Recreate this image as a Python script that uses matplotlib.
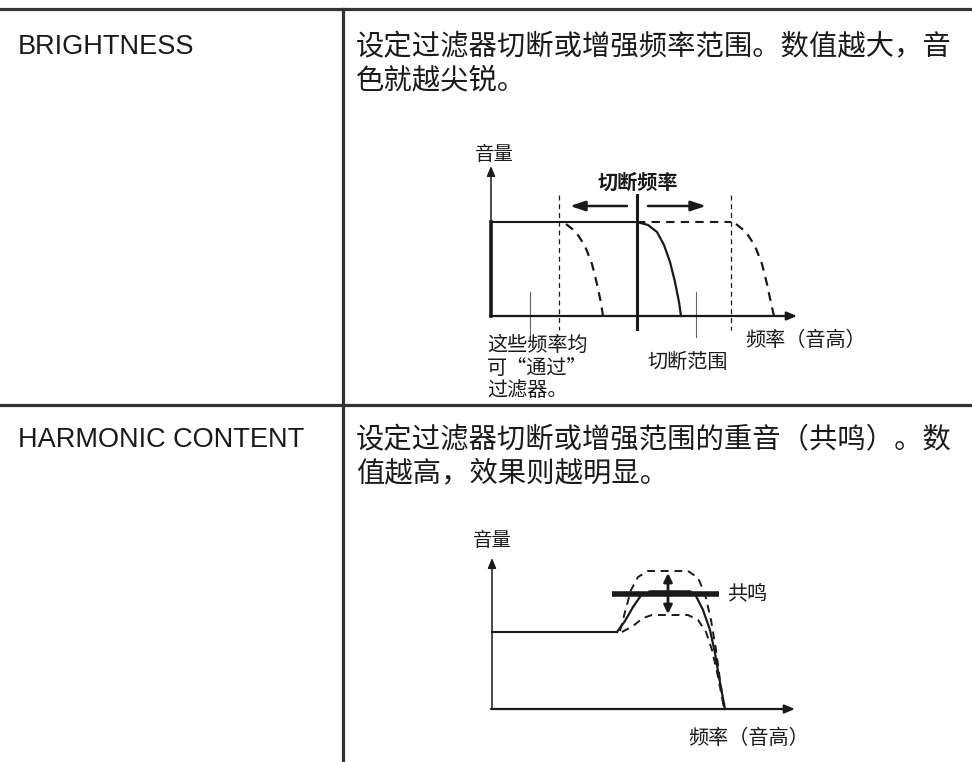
import numpy as np
import matplotlib.pyplot as plt

plt.rcParams['font.family'] = ['Noto Sans CJK SC', 'DejaVu Sans']

# row labels and descriptions
params = ['BRIGHTNESS', 'HARMONIC CONTENT']
desc = [['设定过滤器切断或增强频率范围。数值越大，音', '色就越尖锐。'],
        ['设定过滤器切断或增强范围的重音（共鸣）。数', '值越高，效果则越明显。']]

# BRIGHTNESS diagram (picture pixels)
b_level = 222
b_base = 316
b_cutoff = 637
b_lo, b_hi = 559, 731
b_solid_x = [637, 648, 657, 664, 670, 675, 679, 681]
b_solid_y = [222, 225, 232, 245, 262, 282, 302, 316]
b_dash1_x = [566, 576, 585, 592, 597, 601, 603]
b_dash2_x = [736, 746, 755, 762, 767, 771, 774]
b_dash_y = [224, 232, 246, 264, 284, 303, 316]

# HARMONIC CONTENT diagram
h_flat_x = [492, 617]
h_flat_y = 632
h_solid_x = [617, 625, 633, 642, 695, 703, 710, 715, 719, 725]
h_solid_y = [632, 621, 607, 594, 594, 610, 630, 653, 677, 709]
h_up_x = [620, 625, 631, 638, 648, 688, 698, 705, 711, 716, 720, 724]
h_up_y = [631, 612, 590, 577, 571, 571, 578, 594, 620, 650, 680, 708]
h_low_x = [622, 633, 643, 652, 688, 698, 706, 712, 717, 721, 724]
h_low_y = [632, 626, 618, 615, 615, 620, 632, 650, 672, 692, 708]
h_res = 594

fig = plt.figure(figsize=(9.72, 7.62), dpi=100)
ax = fig.add_axes([0, 0, 1, 1])
ax.set_xlim(0, 972)
ax.set_ylim(762, 0)
ax.axis('off')

line_c = '#333333'
ink = '#1a1a1a'

# table frame
ax.plot([0, 972], [9, 9], color=line_c, lw=2.3)
ax.plot([0, 970], [405, 405], color=line_c, lw=2.3)
ax.plot([343, 343], [9, 762], color=line_c, lw=2.3)

for i, (p, d) in enumerate(zip(params, desc)):
    y0 = 47 + i * 393
    ax.text(18, y0, p, fontsize=19.5, family=['Liberation Sans', 'DejaVu Sans'],
            va='center', ha='left', color=ink)
    for j, s in enumerate(d):
        ax.text(356, y0 + j * 33, s, fontsize=20.4, fontweight='medium',
                va='center', ha='left', color=ink)

def arrow(x0, y0, x1, y1, lw=1.2, hw=0.35, hl=0.7):
    ax.annotate('', xy=(x1, y1), xytext=(x0, y0),
                arrowprops=dict(arrowstyle='-|>,head_width=%s,head_length=%s' % (hw, hl),
                                color=ink, lw=lw, shrinkA=0, shrinkB=0))

lab = dict(fontsize=14.5, fontweight='medium', va='center', color=ink)

# ---- BRIGHTNESS diagram
arrow(491, b_base, 491, 166, lw=1.1, hw=0.25, hl=0.6)
arrow(490, b_base, 797, b_base, lw=1.6, hw=0.25, hl=0.6)
ax.plot([491, 491], [b_level, b_base], color=ink, lw=2.6)
ax.plot([491, b_cutoff], [b_level, b_level], color=ink, lw=1.5)
ax.plot([b_cutoff, b_hi], [b_level, b_level], color=ink, lw=1.5, ls=(0, (4, 3)))
ax.plot([b_cutoff, b_cutoff], [195, 329], color=ink, lw=2.2)
ax.plot(b_solid_x, b_solid_y, color=ink, lw=1.6)
ax.plot(b_dash1_x, b_dash_y, color=ink, lw=1.6, ls=(0, (4, 3)))
ax.plot(b_dash2_x, b_dash_y, color=ink, lw=1.6, ls=(0, (4, 3)))
for xv in [b_lo, b_hi]:
    ax.plot([xv, xv], [195, 330], color=ink, lw=0.9, ls=(0, (4, 3)))
arrow(627, 206, 570, 206, lw=1.8, hw=0.3, hl=0.9)
arrow(648, 206, 706, 206, lw=1.8, hw=0.3, hl=0.9)
ax.plot([530, 530], [292, 337], color='#666666', lw=0.8)
ax.plot([696, 696], [292, 337], color='#666666', lw=0.8)
ax.text(494, 155, '音量', ha='center', **{**lab, 'fontsize': 14})
ax.text(638, 182, '切断频率', ha='center', **{**lab, 'fontweight': 'bold'})
ax.text(487, 345, '这些频率均', ha='left', **lab)
ax.text(487, 368, '可“通过”', ha='left', **lab)
ax.text(487, 391, '过滤器。', ha='left', **lab)
ax.text(647, 362, '切断范围', ha='left', **lab)
ax.text(745, 341, '频率（音高）', ha='left', **lab)

# ---- HARMONIC CONTENT diagram
arrow(492, 709, 492, 558, lw=1.1, hw=0.25, hl=0.6)
arrow(491, 709, 795, 709, lw=1.6, hw=0.25, hl=0.6)
ax.plot(h_flat_x, [h_flat_y, h_flat_y], color=ink, lw=1.5)
ax.plot(h_solid_x, h_solid_y, color=ink, lw=1.6)
ax.plot(h_up_x, h_up_y, color=ink, lw=1.4, ls=(0, (4, 3)))
ax.plot(h_low_x, h_low_y, color=ink, lw=1.4, ls=(0, (4, 3)))
ax.plot([612, 719], [h_res, h_res], color=ink, lw=4.0, solid_capstyle='butt')
ax.plot([650, 690], [h_res - 1.5, h_res - 1.5], color=ink, lw=4.0, solid_capstyle='round')
arrow(668, 591, 668, 573, lw=2.0, hw=0.25, hl=0.5)
arrow(668, 597, 668, 614, lw=2.0, hw=0.25, hl=0.5)
ax.text(492, 541, '音量', ha='center', **{**lab, 'fontsize': 14})
ax.text(727, 594, '共鸣', ha='left', **lab)
ax.text(688, 738, '频率（音高）', ha='left', **lab)

fig.savefig('out.png', dpi=100, facecolor='white')
